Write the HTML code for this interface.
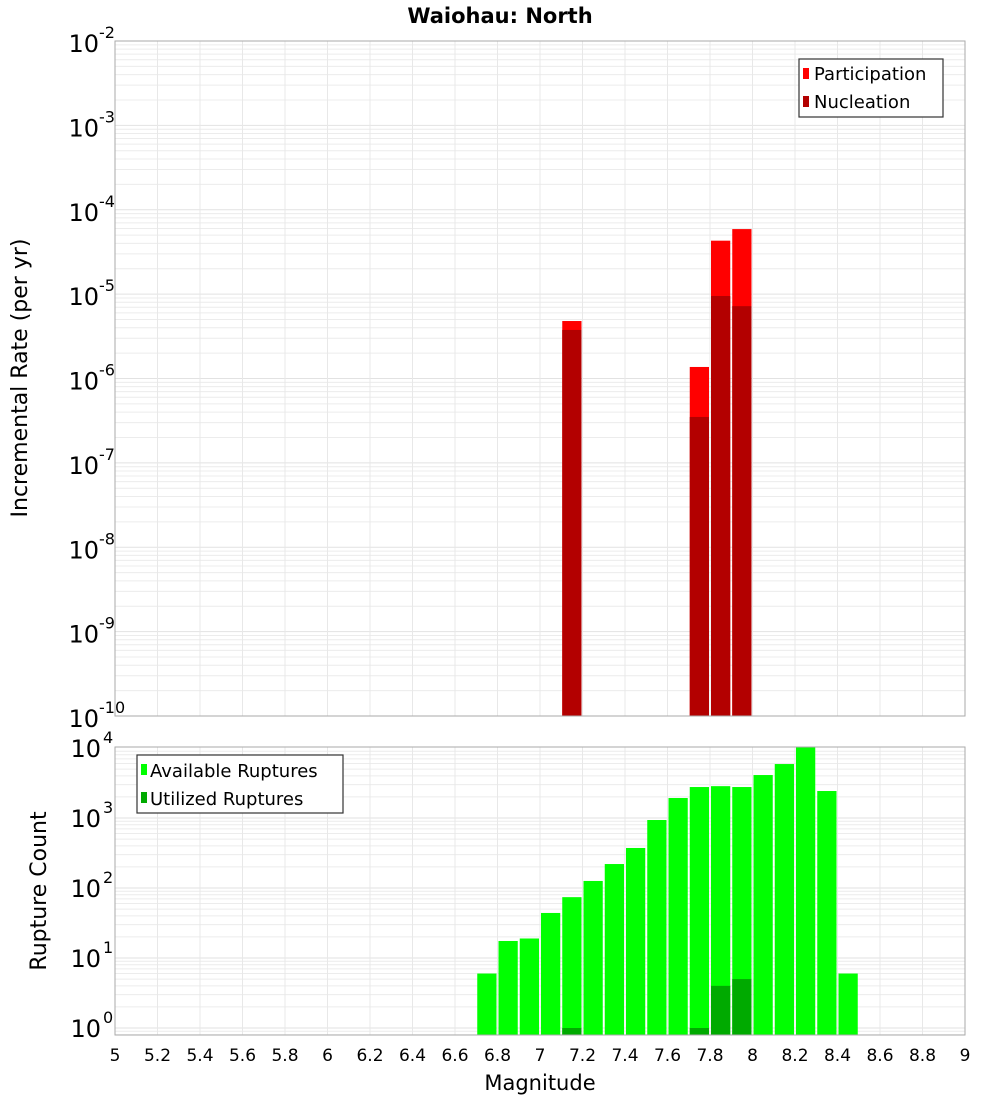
<!DOCTYPE html>
<html><head><meta charset="utf-8"><style>
html,body{margin:0;padding:0;background:#fff;}
svg{display:block;font-family:"DejaVu Sans","Liberation Sans",sans-serif;}
</style></head><body>
<svg id="chart" width="1000" height="1100" xmlns="http://www.w3.org/2000/svg">
<text x="500" y="23" text-anchor="middle" font-size="21" font-weight="bold">Waiohau: North</text>
<text transform="translate(27,378) rotate(-90)" text-anchor="middle" font-size="22">Incremental Rate (per yr)</text>
<text transform="translate(46,891) rotate(-90)" text-anchor="middle" font-size="22">Rupture Count</text>
<text x="540" y="1090" text-anchor="middle" font-size="21">Magnitude</text>
<g id="topPanel"></g><g id="botPanel"></g><g id="xTickGroup"></g>
<g>
<rect x="799" y="59" width="144" height="58" fill="#fff" stroke="#333" stroke-width="1.2"/>
<rect x="803" y="68" width="6" height="11" fill="#ff0000"/>
<text x="814" y="80" font-size="18">Participation</text>
<rect x="803" y="96" width="6" height="11" fill="#b30000"/>
<text x="814" y="108" font-size="18">Nucleation</text>
</g>
<g>
<rect x="137" y="755" width="206" height="58" fill="#fff" stroke="#333" stroke-width="1.2"/>
<rect x="141" y="764" width="6" height="11" fill="#00ff00"/>
<text x="150" y="777" font-size="18">Available Ruptures</text>
<rect x="141" y="792" width="6" height="11" fill="#00aa00"/>
<text x="150" y="805" font-size="18">Utilized Ruptures</text>
</g>
</svg>
<script>
const rateMags=[7.1,7.7,7.8,7.9];
const participation=[4.8e-6,1.37e-6,4.3e-5,5.9e-5];
const nucleation=[3.76e-6,3.5e-7,9.5e-6,7.2e-6];
const countMags=[6.7,6.8,6.9,7.0,7.1,7.2,7.3,7.4,7.5,7.6,7.7,7.8,7.9,8.0,8.1,8.2,8.3,8.4];
const available=[6,17.5,19,44,74,126,220,373,936,1930,2770,2850,2770,4110,5900,10300,2430,6];
const utilMags=[7.1,7.7,7.8,7.9];
const utilized=[1,1,4,5];
const xTicks=["5","5.2","5.4","5.6","5.8","6","6.2","6.4","6.6","6.8","7","7.2","7.4","7.6","7.8","8","8.2","8.4","8.6","8.8","9"];
const topExps=[-2,-3,-4,-5,-6,-7,-8,-9,-10];
const botExps=[4,3,2,1,0];

const NS="http://www.w3.org/2000/svg";
const X0=115,X1=965;
const xs=m=>X0+(m-5)/4*(X1-X0);
const yTop=v=>41+(-2-Math.log10(v))*84.375;
const yBot=v=>1028-Math.log10(v)*70;
function mk(p,tag,a){const e=document.createElementNS(NS,tag);for(const k in a)e.setAttribute(k,a[k]);p.appendChild(e);return e;}
const topPanel=document.getElementById('topPanel'),botPanel=document.getElementById('botPanel'),xTickGroup=document.getElementById('xTickGroup');

function grid(g,y0,y1,expLo,expHi,yf){
  for(let e=expLo;e<expHi;e++)for(let k=1;k<10;k++){const y=yf(k*Math.pow(10,e));if(y>=y0&&y<=y1)mk(g,'line',{x1:X0,x2:X1,y1:y,y2:y,stroke:k==1?'#e2e2e2':'#ececec','stroke-width':1});}
  for(let i=0;i<=20;i++){const x=xs(5+i*0.2);mk(g,'line',{x1:x,x2:x,y1:y0,y2:y1,stroke:'#e8e8e8','stroke-width':1});}
}
const tg=mk(topPanel,'g',{});


grid(tg,41,716,-10,-1,yTop);
rateMags.forEach((m,i)=>{
  const x=xs(m)+1,w=xs(m+0.1)-xs(m)-2;
  const r=mk(tg,'rect',{x:x,y:yTop(participation[i]),width:w,height:716-yTop(participation[i]),fill:'#ff0000'});
  
  
  const n=mk(tg,'rect',{x:x,y:yTop(nucleation[i]),width:w,height:716-yTop(nucleation[i]),fill:'#b30000'});
  
  
});
mk(tg,'rect',{x:X0,y:41,width:X1-X0,height:675,fill:'none',stroke:'#aaa','stroke-width':1});
topExps.forEach(e=>{
  const y=yTop(Math.pow(10,e));
  const t=mk(topPanel,'text',{x:99,y:y+11,'text-anchor':'end','font-size':24});
  t.textContent='10';
  
  
  const s=mk(topPanel,'text',{x:99,y:y-3,'font-size':16});
  s.textContent=String(e);
  
  
});
const bg=mk(botPanel,'g',{});


grid(bg,747,1035,-1,4,yBot);
countMags.forEach((m,i)=>{
  const x=xs(m)+1,w=xs(m+0.1)-xs(m)-2;const y=Math.max(747,yBot(available[i]));
  const r=mk(bg,'rect',{x:x,y:y,width:w,height:1035-y,fill:'#00ff00'});
  
  
});
utilMags.forEach((m,i)=>{
  const x=xs(m)+1,w=xs(m+0.1)-xs(m)-2;const y=yBot(utilized[i]);
  const r=mk(bg,'rect',{x:x,y:y,width:w,height:1035-y,fill:'#00aa00'});
  
  
});
mk(bg,'rect',{x:X0,y:747,width:X1-X0,height:288,fill:'none',stroke:'#aaa','stroke-width':1});
botExps.forEach(e=>{
  const y=yBot(Math.pow(10,e));
  const t=mk(botPanel,'text',{x:101,y:y+9,'text-anchor':'end','font-size':24});
  t.textContent='10';
  
  
  const s=mk(botPanel,'text',{x:103,y:y-5,'font-size':16});
  s.textContent=String(e);
  
  
});
xTicks.forEach((l,i)=>{
  const t=mk(xTickGroup,'text',{x:xs(parseFloat(l)),y:1061,'text-anchor':'middle','font-size':17});
  t.textContent=l;
  
  
});
</script>
</body></html>
